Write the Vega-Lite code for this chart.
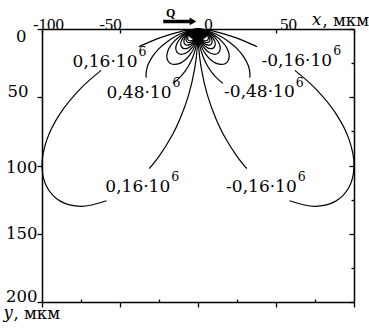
{
  "$schema": "https://vega.github.io/schema/vega-lite/v6.json",
  "width": 312,
  "height": 273,
  "autosize": {"type": "none"},
  "padding": {"left": 42, "top": 29, "right": 15, "bottom": 31},
  "background": "white",
  "config": {
    "view": {"stroke": null},
    "font": "DejaVu Serif",
    "axis": {
      "domain": true,
      "domainColor": "black",
      "domainWidth": 1.5,
      "grid": false,
      "tickColor": "black",
      "tickWidth": 1.3,
      "labelColor": "black",
      "labelFont": "Liberation Serif",
      "labelFontSize": 17,
      "labelFlush": false,
      "labelOverlap": false,
      "titleColor": "black",
      "titleFont": "DejaVu Serif",
      "titleFontSize": 16.5,
      "titleFontWeight": "normal"
    }
  },
  "datasets": {
    "curves": [
      {"c": "L16a", "x": 0, "y": 0}, {"c": "L16a", "x": -0.49, "y": 0.02}, {"c": "L16a", "x": -3.02, "y": 0.26}, {"c": "L16a", "x": -7.6, "y": 1.07}, {"c": "L16a", "x": -11.7, "y": 2.06}, {"c": "L16a", "x": -16.54, "y": 3.52}, {"c": "L16a", "x": -25, "y": 6.7}, {"c": "L16a", "x": -34.55, "y": 11.23}, {"c": "L16a", "x": -37.9, "y": 13.05},
      {"c": "L16b", "x": -62.1, "y": 30.29}, {"c": "L16b", "x": -75, "y": 43.3}, {"c": "L16b", "x": -88.3, "y": 61.83}, {"c": "L16b", "x": -96.98, "y": 81.38}, {"c": "L16b", "x": -100, "y": 100}, {"c": "L16b", "x": -96.98, "y": 115.58}, {"c": "L16b", "x": -88.3, "y": 126.11}, {"c": "L16b", "x": -75, "y": 129.9}, {"c": "L16b", "x": -58.68, "y": 125.85},
      {"c": "L16c", "x": -31.27, "y": 102.28}, {"c": "L16c", "x": -25, "y": 93.3}, {"c": "L16c", "x": -16.54, "y": 77.83}, {"c": "L16c", "x": -11.7, "y": 66.34}, {"c": "L16c", "x": -5.85, "y": 47.67}, {"c": "L16c", "x": -1.94, "y": 27.7}, {"c": "L16c", "x": -0.49, "y": 13.93}, {"c": "L16c", "x": 0, "y": 0},
      {"c": "L48a", "x": 0, "y": 0}, {"c": "L48a", "x": -1.0, "y": 0.09}, {"c": "L48a", "x": -3.9, "y": 0.69}, {"c": "L48a", "x": -8.33, "y": 2.23}, {"c": "L48a", "x": -13.77, "y": 5.01}, {"c": "L48a", "x": -19.56, "y": 9.12}, {"c": "L48a", "x": -25, "y": 14.43}, {"c": "L48a", "x": -29.43, "y": 20.61}, {"c": "L48a", "x": -32.33, "y": 27.13}, {"c": "L48a", "x": -33.33, "y": 33.33}, {"c": "L48a", "x": -33.17, "y": 35.57},
      {"c": "L48b", "x": -16.08, "y": 39.81}, {"c": "L48b", "x": -13.77, "y": 37.84}, {"c": "L48b", "x": -8.33, "y": 31.1}, {"c": "L48b", "x": -3.9, "y": 22.11}, {"c": "L48b", "x": -1.95, "y": 15.89}, {"c": "L48b", "x": -0.65, "y": 9.23}, {"c": "L48b", "x": 0, "y": 0},
      {"c": "L80", "x": 0, "y": 0}, {"c": "L80", "x": -0.6, "y": 0.05}, {"c": "L80", "x": -2.34, "y": 0.41}, {"c": "L80", "x": -5, "y": 1.34}, {"c": "L80", "x": -8.26, "y": 3.01}, {"c": "L80", "x": -11.74, "y": 5.47}, {"c": "L80", "x": -15, "y": 8.66}, {"c": "L80", "x": -17.66, "y": 12.37}, {"c": "L80", "x": -19.4, "y": 16.28}, {"c": "L80", "x": -20, "y": 20}, {"c": "L80", "x": -19.4, "y": 23.12}, {"c": "L80", "x": -17.66, "y": 25.22}, {"c": "L80", "x": -15, "y": 25.98}, {"c": "L80", "x": -11.74, "y": 25.17}, {"c": "L80", "x": -8.26, "y": 22.7}, {"c": "L80", "x": -5, "y": 18.66}, {"c": "L80", "x": -2.34, "y": 13.27}, {"c": "L80", "x": -0.39, "y": 5.54}, {"c": "L80", "x": 0, "y": 0},
      {"c": "L112", "x": 0, "y": 0}, {"c": "L112", "x": -1.09, "y": 0.15}, {"c": "L112", "x": -3.57, "y": 0.96}, {"c": "L112", "x": -8.38, "y": 3.91}, {"c": "L112", "x": -12.61, "y": 8.83}, {"c": "L112", "x": -14.29, "y": 14.29}, {"c": "L112", "x": -12.61, "y": 18.01}, {"c": "L112", "x": -8.38, "y": 17.98}, {"c": "L112", "x": -3.57, "y": 13.33}, {"c": "L112", "x": -0.84, "y": 6.81}, {"c": "L112", "x": 0, "y": 0},
      {"c": "L144", "x": 0, "y": 0}, {"c": "L144", "x": -0.84, "y": 0.12}, {"c": "L144", "x": -2.78, "y": 0.74}, {"c": "L144", "x": -6.52, "y": 3.04}, {"c": "L144", "x": -9.81, "y": 6.87}, {"c": "L144", "x": -11.11, "y": 11.11}, {"c": "L144", "x": -9.81, "y": 14.01}, {"c": "L144", "x": -6.52, "y": 13.98}, {"c": "L144", "x": -2.78, "y": 10.37}, {"c": "L144", "x": -0.65, "y": 5.3}, {"c": "L144", "x": 0, "y": 0},
      {"c": "L176", "x": 0, "y": 0}, {"c": "L176", "x": -0.69, "y": 0.1}, {"c": "L176", "x": -2.27, "y": 0.61}, {"c": "L176", "x": -5.33, "y": 2.49}, {"c": "L176", "x": -8.03, "y": 5.62}, {"c": "L176", "x": -9.09, "y": 9.09}, {"c": "L176", "x": -8.03, "y": 11.46}, {"c": "L176", "x": -5.33, "y": 11.44}, {"c": "L176", "x": -2.27, "y": 8.48}, {"c": "L176", "x": -0.53, "y": 4.33}, {"c": "L176", "x": 0, "y": 0},
      {"c": "L208", "x": 0, "y": 0}, {"c": "L208", "x": -0.58, "y": 0.08}, {"c": "L208", "x": -1.92, "y": 0.52}, {"c": "L208", "x": -4.51, "y": 2.1}, {"c": "L208", "x": -6.79, "y": 4.76}, {"c": "L208", "x": -7.69, "y": 7.69}, {"c": "L208", "x": -6.79, "y": 9.7}, {"c": "L208", "x": -4.51, "y": 9.68}, {"c": "L208", "x": -1.92, "y": 7.18}, {"c": "L208", "x": -0.45, "y": 3.67}, {"c": "L208", "x": 0, "y": 0},
      {"c": "L240", "x": 0, "y": 0}, {"c": "L240", "x": -0.51, "y": 0.07}, {"c": "L240", "x": -1.67, "y": 0.45}, {"c": "L240", "x": -3.91, "y": 1.82}, {"c": "L240", "x": -5.89, "y": 4.12}, {"c": "L240", "x": -6.67, "y": 6.67}, {"c": "L240", "x": -5.89, "y": 8.41}, {"c": "L240", "x": -3.91, "y": 8.39}, {"c": "L240", "x": -1.67, "y": 6.22}, {"c": "L240", "x": -0.39, "y": 3.18}, {"c": "L240", "x": 0, "y": 0},

      {"c": "R16a", "x": 0, "y": 0}, {"c": "R16a", "x": 0.49, "y": 0.02}, {"c": "R16a", "x": 3.02, "y": 0.26}, {"c": "R16a", "x": 7.6, "y": 1.07}, {"c": "R16a", "x": 11.7, "y": 2.06}, {"c": "R16a", "x": 16.54, "y": 3.52}, {"c": "R16a", "x": 25, "y": 6.7}, {"c": "R16a", "x": 34.55, "y": 11.23}, {"c": "R16a", "x": 37.9, "y": 13.05},
      {"c": "R16b", "x": 62.1, "y": 30.29}, {"c": "R16b", "x": 75, "y": 43.3}, {"c": "R16b", "x": 88.3, "y": 61.83}, {"c": "R16b", "x": 96.98, "y": 81.38}, {"c": "R16b", "x": 100, "y": 100}, {"c": "R16b", "x": 96.98, "y": 115.58}, {"c": "R16b", "x": 88.3, "y": 126.11}, {"c": "R16b", "x": 75, "y": 129.9}, {"c": "R16b", "x": 58.68, "y": 125.85},
      {"c": "R16c", "x": 31.27, "y": 102.28}, {"c": "R16c", "x": 25, "y": 93.3}, {"c": "R16c", "x": 16.54, "y": 77.83}, {"c": "R16c", "x": 11.7, "y": 66.34}, {"c": "R16c", "x": 5.85, "y": 47.67}, {"c": "R16c", "x": 1.94, "y": 27.7}, {"c": "R16c", "x": 0.49, "y": 13.93}, {"c": "R16c", "x": 0, "y": 0},
      {"c": "R48a", "x": 0, "y": 0}, {"c": "R48a", "x": 1.0, "y": 0.09}, {"c": "R48a", "x": 3.9, "y": 0.69}, {"c": "R48a", "x": 8.33, "y": 2.23}, {"c": "R48a", "x": 13.77, "y": 5.01}, {"c": "R48a", "x": 19.56, "y": 9.12}, {"c": "R48a", "x": 25, "y": 14.43}, {"c": "R48a", "x": 29.43, "y": 20.61}, {"c": "R48a", "x": 32.33, "y": 27.13}, {"c": "R48a", "x": 33.33, "y": 33.33}, {"c": "R48a", "x": 33.17, "y": 35.57},
      {"c": "R48b", "x": 16.08, "y": 39.81}, {"c": "R48b", "x": 13.77, "y": 37.84}, {"c": "R48b", "x": 8.33, "y": 31.1}, {"c": "R48b", "x": 3.9, "y": 22.11}, {"c": "R48b", "x": 1.95, "y": 15.89}, {"c": "R48b", "x": 0.65, "y": 9.23}, {"c": "R48b", "x": 0, "y": 0},
      {"c": "R80", "x": 0, "y": 0}, {"c": "R80", "x": 0.6, "y": 0.05}, {"c": "R80", "x": 2.34, "y": 0.41}, {"c": "R80", "x": 5, "y": 1.34}, {"c": "R80", "x": 8.26, "y": 3.01}, {"c": "R80", "x": 11.74, "y": 5.47}, {"c": "R80", "x": 15, "y": 8.66}, {"c": "R80", "x": 17.66, "y": 12.37}, {"c": "R80", "x": 19.4, "y": 16.28}, {"c": "R80", "x": 20, "y": 20}, {"c": "R80", "x": 19.4, "y": 23.12}, {"c": "R80", "x": 17.66, "y": 25.22}, {"c": "R80", "x": 15, "y": 25.98}, {"c": "R80", "x": 11.74, "y": 25.17}, {"c": "R80", "x": 8.26, "y": 22.7}, {"c": "R80", "x": 5, "y": 18.66}, {"c": "R80", "x": 2.34, "y": 13.27}, {"c": "R80", "x": 0.39, "y": 5.54}, {"c": "R80", "x": 0, "y": 0},
      {"c": "R112", "x": 0, "y": 0}, {"c": "R112", "x": 1.09, "y": 0.15}, {"c": "R112", "x": 3.57, "y": 0.96}, {"c": "R112", "x": 8.38, "y": 3.91}, {"c": "R112", "x": 12.61, "y": 8.83}, {"c": "R112", "x": 14.29, "y": 14.29}, {"c": "R112", "x": 12.61, "y": 18.01}, {"c": "R112", "x": 8.38, "y": 17.98}, {"c": "R112", "x": 3.57, "y": 13.33}, {"c": "R112", "x": 0.84, "y": 6.81}, {"c": "R112", "x": 0, "y": 0},
      {"c": "R144", "x": 0, "y": 0}, {"c": "R144", "x": 0.84, "y": 0.12}, {"c": "R144", "x": 2.78, "y": 0.74}, {"c": "R144", "x": 6.52, "y": 3.04}, {"c": "R144", "x": 9.81, "y": 6.87}, {"c": "R144", "x": 11.11, "y": 11.11}, {"c": "R144", "x": 9.81, "y": 14.01}, {"c": "R144", "x": 6.52, "y": 13.98}, {"c": "R144", "x": 2.78, "y": 10.37}, {"c": "R144", "x": 0.65, "y": 5.3}, {"c": "R144", "x": 0, "y": 0},
      {"c": "R176", "x": 0, "y": 0}, {"c": "R176", "x": 0.69, "y": 0.1}, {"c": "R176", "x": 2.27, "y": 0.61}, {"c": "R176", "x": 5.33, "y": 2.49}, {"c": "R176", "x": 8.03, "y": 5.62}, {"c": "R176", "x": 9.09, "y": 9.09}, {"c": "R176", "x": 8.03, "y": 11.46}, {"c": "R176", "x": 5.33, "y": 11.44}, {"c": "R176", "x": 2.27, "y": 8.48}, {"c": "R176", "x": 0.53, "y": 4.33}, {"c": "R176", "x": 0, "y": 0},
      {"c": "R208", "x": 0, "y": 0}, {"c": "R208", "x": 0.58, "y": 0.08}, {"c": "R208", "x": 1.92, "y": 0.52}, {"c": "R208", "x": 4.51, "y": 2.1}, {"c": "R208", "x": 6.79, "y": 4.76}, {"c": "R208", "x": 7.69, "y": 7.69}, {"c": "R208", "x": 6.79, "y": 9.7}, {"c": "R208", "x": 4.51, "y": 9.68}, {"c": "R208", "x": 1.92, "y": 7.18}, {"c": "R208", "x": 0.45, "y": 3.67}, {"c": "R208", "x": 0, "y": 0},
      {"c": "R240", "x": 0, "y": 0}, {"c": "R240", "x": 0.51, "y": 0.07}, {"c": "R240", "x": 1.67, "y": 0.45}, {"c": "R240", "x": 3.91, "y": 1.82}, {"c": "R240", "x": 5.89, "y": 4.12}, {"c": "R240", "x": 6.67, "y": 6.67}, {"c": "R240", "x": 5.89, "y": 8.41}, {"c": "R240", "x": 3.91, "y": 8.39}, {"c": "R240", "x": 1.67, "y": 6.22}, {"c": "R240", "x": 0.39, "y": 3.18}, {"c": "R240", "x": 0, "y": 0}
    ],
    "labels": [
      {"t": "0,16·10", "s": "6", "x": -38.8, "y": 27.6},
      {"t": "-0,16·10", "s": "6", "x": 86, "y": 26.9},
      {"t": "0,48·10", "s": "6", "x": -17, "y": 50.2},
      {"t": "-0,48·10", "s": "6", "x": 62, "y": 50},
      {"t": "0,16·10", "s": "6", "x": -17.8, "y": 119.2},
      {"t": "-0,16·10", "s": "6", "x": 63.3, "y": 119.2}
    ],
    "axisNames": [
      {"n": "x", "x": 73, "y": -2.93},
      {"n": "y", "x": -124.7, "y": 211.7}
    ],
    "arrow": [
      {"x": -22.3, "y": -5.5},
      {"x": -5, "y": -5.5}
    ],
    "source": [
      {"x": 0, "y": 0, "head": -3.2, "hy": -5.5, "q": "Q", "qx": -17.5, "qy": -8.8}
    ]
  },
  "resolve": {"axis": {"x": "independent", "y": "independent"}},
  "layer": [
    {
      "data": {"name": "curves"},
      "mark": {"type": "line", "interpolate": "catmull-rom", "color": "black", "strokeWidth": 1.2},
      "encoding": {
        "x": {
          "field": "x", "type": "quantitative",
          "scale": {"domain": [-100, 100], "nice": false, "zero": false},
          "axis": {
            "orient": "top",
            "values": [-100, -50, 0, 50, 100],
            "labelExpr": "datum.value == 100 ? '' : '' + datum.value",
            "tickSize": -4,
            "labelPadding": 4,
            "labelBaseline": "alphabetic",
            "labelOffset": {"condition": [
              {"test": "datum.value == -100", "value": 6},
              {"test": "datum.value == -50", "value": -10},
              {"test": "datum.value == 0", "value": 10},
              {"test": "datum.value == 50", "value": 12}
            ], "value": 0},
            "title": ", мкм",
            "titleX": 280,
            "titleY": -4,
            "titleAlign": "left",
            "titleBaseline": "alphabetic"
          }
        },
        "y": {
          "field": "y", "type": "quantitative",
          "scale": {"domain": [0, 200], "reverse": true, "nice": false, "zero": false},
          "axis": {
            "orient": "left",
            "values": [0, 50, 100, 150, 200],
            "labelExpr": "'' + datum.value",
            "labelFont": "DejaVu Serif",
            "labelFontSize": 16.5,
            "tickSize": 5,
            "labelPadding": {"condition": [
              {"test": "datum.value == 0", "value": 11},
              {"test": "datum.value == 50", "value": 9}
            ], "value": 0},
            "labelOffset": {"condition": [
              {"test": "datum.value == 0", "value": 7},
              {"test": "datum.value == 50", "value": -6},
              {"test": "datum.value == 100", "value": 2},
              {"test": "datum.value == 200", "value": -6}
            ], "value": 0},
            "title": ", мкм",
            "titleAngle": 0,
            "titleX": -29,
            "titleY": 289,
            "titleAlign": "left",
            "titleBaseline": "alphabetic"
          }
        },
        "detail": {"field": "c"},
        "order": {"value": null}
      }
    },
    {
      "data": {"name": "axisNames"},
      "mark": {"type": "text", "font": "DejaVu Serif", "fontSize": 16.5, "fontStyle": "italic", "baseline": "alphabetic", "align": "left", "color": "black", "clip": false},
      "encoding": {
        "x": {"field": "x", "type": "quantitative", "axis": null},
        "y": {"field": "y", "type": "quantitative", "axis": null},
        "text": {"field": "n"}
      }
    },
    {
      "data": {"name": "source"},
      "mark": {"type": "point", "shape": "M-1,0A1,0.9 0 0 0 1,0Z", "filled": true, "color": "black", "opacity": 1, "size": 600, "clip": false},
      "encoding": {
        "x": {"field": "x", "type": "quantitative", "axis": null},
        "y": {"field": "y", "type": "quantitative", "axis": null}
      }
    },
    {
      "data": {"name": "arrow"},
      "mark": {"type": "line", "color": "black", "strokeWidth": 3.5, "clip": false},
      "encoding": {
        "x": {"field": "x", "type": "quantitative", "axis": null},
        "y": {"field": "y", "type": "quantitative", "axis": null}
      }
    },
    {
      "data": {"name": "source"},
      "mark": {"type": "point", "shape": "triangle-right", "filled": true, "color": "black", "opacity": 1, "size": 60, "clip": false},
      "encoding": {
        "x": {"field": "head", "type": "quantitative", "axis": null},
        "y": {"field": "hy", "type": "quantitative", "axis": null}
      }
    },
    {
      "data": {"name": "source"},
      "mark": {"type": "text", "font": "Liberation Serif", "fontSize": 12, "fontWeight": "bold", "baseline": "alphabetic", "align": "center", "color": "black", "clip": false},
      "encoding": {
        "x": {"field": "qx", "type": "quantitative", "axis": null},
        "y": {"field": "qy", "type": "quantitative", "axis": null},
        "text": {"field": "q"}
      }
    },
    {
      "data": {"name": "labels"},
      "mark": {"type": "text", "font": "DejaVu Serif", "fontSize": 17, "baseline": "alphabetic", "align": "right", "color": "black"},
      "encoding": {
        "x": {
          "field": "x", "type": "quantitative",
          "axis": {
            "orient": "bottom",
            "values": [-100, -75, -50, -25, 0, 25, 50, 75, 100],
            "labels": false,
            "tickSize": {"condition": {"test": "datum.value % 50 != 0", "value": -3}, "value": 5},
            "title": null
          }
        },
        "y": {
          "field": "y", "type": "quantitative",
          "axis": {
            "orient": "right",
            "values": [0, 25, 50, 75, 100, 125, 150, 175, 200],
            "labels": false,
            "tickSize": {"condition": {"test": "datum.value % 50 != 0", "value": -3}, "value": -5},
            "title": null
          }
        },
        "text": {"field": "t"}
      }
    },
    {
      "data": {"name": "labels"},
      "mark": {"type": "text", "font": "DejaVu Serif", "fontSize": 12.5, "baseline": "alphabetic", "align": "left", "dx": 1, "dy": -10.7, "color": "black"},
      "encoding": {
        "x": {"field": "x", "type": "quantitative", "axis": null},
        "y": {"field": "y", "type": "quantitative", "axis": null},
        "text": {"field": "s"}
      }
    }
  ]
}
